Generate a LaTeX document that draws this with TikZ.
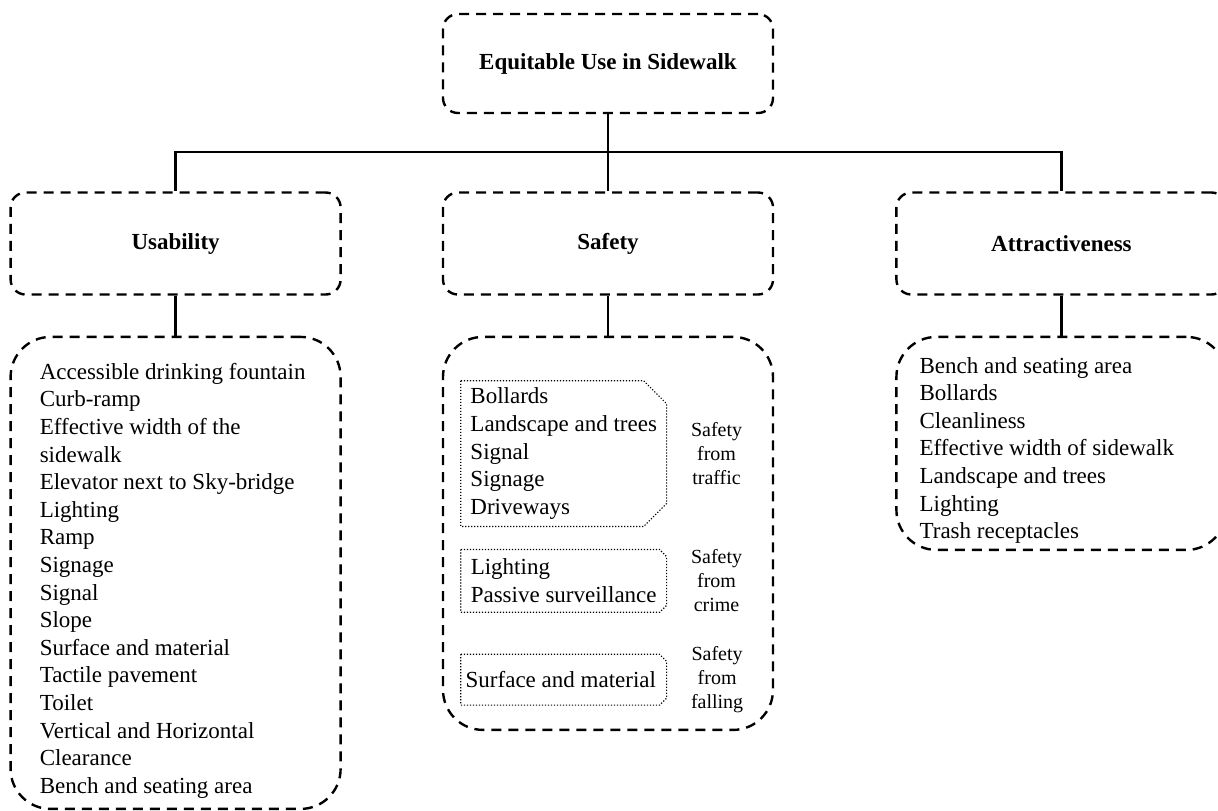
\documentclass[tikz,border=0pt]{standalone}
\usepackage{fontspec}
\setmainfont{Liberation Serif}
\usepackage{tikz}
\usetikzlibrary{positioning}
% dotted frame with the two right corners cut off
\newcommand{\cutbox}[2]{%
  \draw[dotbox] (#1.north west) -- ([xshift=-#2]#1.north east) -- ([yshift=-#2]#1.north east)
    -- ([yshift=#2]#1.south east) -- ([xshift=-#2]#1.south east) -- (#1.south west) -- cycle;}

\begin{document}
\begin{tikzpicture}[
    x=0.5pt, y=-0.5pt,
    every node/.style={inner sep=0pt, font=\fontsize{11.5pt}{13.8pt}\selectfont},
    dashframe/.style={draw, line width=1.2pt, dash pattern=on 5pt off 3.5pt, rounded corners=7.5pt},
    catbox/.style={dashframe, minimum width=165pt, minimum height=51pt, font=\fontsize{11.5pt}{13.8pt}\selectfont\bfseries},
    listbox/.style={dashframe, rounded corners=20pt, minimum width=165pt},
    itemtext/.style={align=left},
    groupbox/.style={align=left, minimum width=102.5pt},
    dotbox/.style={line width=0.6pt, dash pattern=on 0.6pt off 0.9pt},
    sidelabel/.style={align=center, font=\fontsize{10pt}{12pt}\selectfont},
    link/.style={line width=1.2pt}
  ]
  \useasboundingbox (0,0) rectangle (1218,810);

  % top level
  \node[catbox, minimum height=49.5pt] (root) at (608,63.5) {Equitable Use in Sidewalk};
  \node[catbox] (safety) at (608,243.5) {Safety};
  \node[catbox, left=50pt of safety] (usab) {Usability};
  \node[catbox, right=60.5pt of safety] (attract) {Attractiveness};

  \coordinate[below=19pt of root.south] (hub);
  \draw[link] (root.south) -- (hub) -| (usab.north);
  \draw[link] (hub) -| (attract.north);
  \draw[link] (hub) -- (safety.north);

  % lists
  \node[listbox, minimum height=236pt, below=20pt of usab] (usablist) {};
  \node[listbox, minimum height=196.5pt, below=20pt of safety] (safelist) {};
  \node[listbox, minimum height=106.5pt, below=20pt of attract] (attrlist) {};
  \draw[link] (usab.south) -- (usablist.north);
  \draw[link] (safety.south) -- (safelist.north);
  \draw[link] (attract.south) -- (attrlist.north);

  \node[itemtext, below right=13.5pt and 15pt of usablist.north west] (usabitems) {
    Accessible drinking fountain\\
    Curb-ramp\\
    Effective width of the\\
    sidewalk\\
    Elevator next to Sky-bridge\\
    Lighting\\
    Ramp\\
    Signage\\
    Signal\\
    Slope\\
    Surface and material\\
    Tactile pavement\\
    Toilet\\
    Vertical and Horizontal\\
    Clearance\\
    Bench and seating area
  };

  \node[groupbox, minimum height=72.5pt, below right=22.5pt and 9.5pt of safelist.north west] (traffic) {
    Bollards\\
    Landscape and trees\\
    Signal\\
    Signage\\
    Driveways
  };
  \node[groupbox, minimum height=31pt, below=11.5pt of traffic] (crime) {
    Lighting\\
    Passive surveillance
  };
  \node[groupbox, minimum height=25pt, below=21pt of crime] (falling) {
    Surface and material
  };
  \cutbox{traffic}{11.5pt}
  \cutbox{crime}{3.5pt}
  \cutbox{falling}{3.5pt}
  \node[sidelabel, right=12pt of traffic] (trafficlbl) {Safety\\from\\traffic};
  \node[sidelabel, right=12pt of crime] (crimelbl) {Safety\\from\\crime};
  \node[sidelabel, right=12pt of falling] (fallinglbl) {Safety\\from\\falling};

  \node[itemtext, below right=10.5pt and 12pt of attrlist.north west] (attritems) {
    Bench and seating area\\
    Bollards\\
    Cleanliness\\
    Effective width of sidewalk\\
    Landscape and trees\\
    Lighting\\
    Trash receptacles
  };
\end{tikzpicture}
\end{document}
